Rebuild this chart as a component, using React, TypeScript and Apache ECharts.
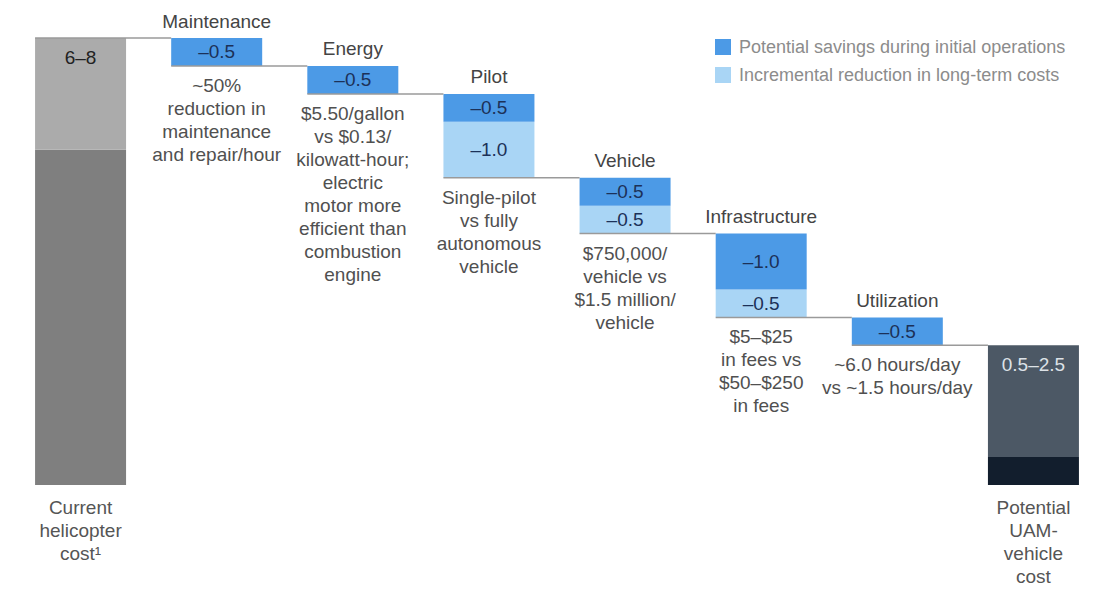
import React, { useEffect, useRef } from "react";
import * as echarts from "echarts";

const categories = ["Current", "Maintenance", "Energy", "Pilot", "Vehicle", "Infrastructure", "Utilization", "Potential"];
const stepNames = ["", "Maintenance", "Energy", "Pilot", "Vehicle", "Infrastructure", "Utilization", ""];
const bottomLabels = ["Current\nhelicopter\ncost¹", "", "", "", "", "", "", "Potential\nUAM-\nvehicle\ncost"];
const descriptions = [
  "",
  "~50%\nreduction in\nmaintenance\nand repair/hour",
  "$5.50/gallon\nvs $0.13/\nkilowatt-hour;\nelectric\nmotor more\nefficient than\ncombustion\nengine",
  "Single-pilot\nvs fully\nautonomous\nvehicle",
  "$750,000/\nvehicle vs\n$1.5 million/\nvehicle",
  "$5–$25\nin fees vs\n$50–$250\nin fees",
  "~6.0 hours/day\nvs ~1.5 hours/day",
  "",
];
const initialSavings = [0, 0.5, 0.5, 0.5, 0.5, 1.0, 0.5, 0];
const longTermReduction = [0, 0, 0, 1.0, 0.5, 0.5, 0, 0];
const currentCostRange = [6, 8];
const potentialCostRange = [0.5, 2.5];
const rangeLabels = ["6–8", "", "", "", "", "", "", "0.5–2.5"];

const FONT = "Liberation Sans, Arial, Helvetica, sans-serif";
const FS = 19;

export default function App() {
  const ref = useRef<HTMLDivElement>(null);
  useEffect(() => {
    if (!ref.current) return;
    const chart = echarts.init(ref.current, undefined, { renderer: "svg" });
    const n = categories.length;
    const levels: number[] = [];
    let lvl = currentCostRange[1];
    levels.push(lvl);
    for (let i = 1; i < n - 1; i++) {
      lvl = lvl - initialSavings[i] - longTermReduction[i];
      levels.push(lvl);
    }
    const base = categories.map((_, i) => (i === 0 || i === n - 1 ? 0 : levels[i]));
    const lower = categories.map((_, i) => (i === 0 ? currentCostRange[0] : i === n - 1 ? potentialCostRange[0] : 0));
    const upper = categories.map((_, i) =>
      i === 0 ? currentCostRange[1] - currentCostRange[0] : i === n - 1 ? potentialCostRange[1] - potentialCostRange[0] : 0
    );
    const lowerColors = ["#7f7f7f", "", "", "", "", "", "", "#121e2d"];
    const upperColors = ["#ababab", "", "", "", "", "", "", "#4c5865"];
    const upperTextColors = ["#222222", "", "", "", "", "", "", "#dde2e7"];
    const valueFmt = (p: any) => (p.value ? "–" + Number(p.value).toFixed(1) : "");
    const BW = 91;

    const option: any = {
      animation: false,
      grid: { left: 12.5, right: 15.5, top: 38, bottom: 124 },
      legend: {
        left: 715,
        top: 38,
        padding: 0,
        orient: "vertical",
        itemWidth: 16,
        itemHeight: 16,
        itemGap: 10,
        icon: "rect",
        selectedMode: false,
        data: ["Potential savings during initial operations", "Incremental reduction in long-term costs"],
        textStyle: { fontFamily: FONT, fontSize: 18, color: "#8c8c8c", padding: [0, 0, 0, 3] },
      },
      xAxis: {
        type: "category",
        data: categories,
        axisLine: { show: false },
        axisTick: { show: false },
        axisLabel: {
          interval: 0,
          margin: 11,
          formatter: (_v: string, i: number) => bottomLabels[i],
          fontFamily: FONT,
          fontSize: FS,
          lineHeight: 23,
          color: "#555555",
        },
      },
      yAxis: { type: "value", min: 0, max: 8, show: false },
      series: [
        {
          name: "base",
          type: "bar",
          stack: "w",
          barWidth: BW,
          data: base,
          itemStyle: { color: "transparent" },
          label: {
            show: true,
            position: "insideTop",
            distance: 8,
            formatter: (p: any) => descriptions[p.dataIndex],
            fontFamily: FONT,
            fontSize: FS,
            lineHeight: 23,
            color: "#505050",
          },
        },
        {
          name: "lower",
          type: "bar",
          stack: "w",
          barWidth: BW,
          data: lower.map((v, i) => ({ value: v, itemStyle: { color: lowerColors[i] || "#000" } })),
        },
        {
          name: "upper",
          type: "bar",
          stack: "w",
          barWidth: BW,
          data: upper.map((v, i) => ({
            value: v,
            itemStyle: { color: upperColors[i] || "#000" },
            label: { color: upperTextColors[i] || "#000" },
          })),
          label: {
            show: true,
            position: "insideTop",
            distance: 9,
            formatter: (p: any) => rangeLabels[p.dataIndex],
            fontFamily: FONT,
            fontSize: FS,
            lineHeight: 20,
          },
        },
        {
          name: "Incremental reduction in long-term costs",
          type: "bar",
          stack: "w",
          barWidth: BW,
          data: longTermReduction,
          itemStyle: { color: "#a9d5f5" },
          label: {
            show: true,
            position: "inside",
            formatter: valueFmt,
            fontFamily: FONT,
            fontSize: FS,
            color: "#1c3158",
          },
        },
        {
          name: "Potential savings during initial operations",
          type: "bar",
          stack: "w",
          barWidth: BW,
          data: initialSavings,
          itemStyle: { color: "#4c9ae6" },
          label: {
            show: true,
            position: "inside",
            formatter: valueFmt,
            fontFamily: FONT,
            fontSize: FS,
            color: "#1c3158",
          },
        },
        {
          name: "names",
          type: "bar",
          stack: "w",
          barWidth: BW,
          data: categories.map(() => 0),
          itemStyle: { color: "transparent" },
          label: {
            show: true,
            position: "top",
            distance: 7,
            formatter: (p: any) => stepNames[p.dataIndex],
            fontFamily: FONT,
            fontSize: FS,
            lineHeight: 20,
            color: "#444444",
          },
        },
        {
          name: "connectors",
          type: "custom",
          z: 5,
          silent: true,
          encode: { x: 0, y: 1 },
          data: levels.map((l, i) => [i, l]),
          renderItem: (_params: any, api: any) => {
            const c = api.coord([api.value(0), api.value(1)]);
            const band = api.size([1, 0])[0];
            const x1 = c[0] - BW / 2;
            const x2 = c[0] + band - BW / 2;
            return {
              type: "line",
              shape: { x1, y1: c[1], x2, y2: c[1] },
              style: { stroke: "#9a9a9a", lineWidth: 1.5 },
            };
          },
        },
      ],
    };
    chart.setOption(option);
    return () => chart.dispose();
  }, []);
  return (
    <div
      ref={ref}
      style={{ position: "fixed", left: 0, top: 0, width: 1117, height: 609, background: "#ffffff" }}
    />
  );
}
